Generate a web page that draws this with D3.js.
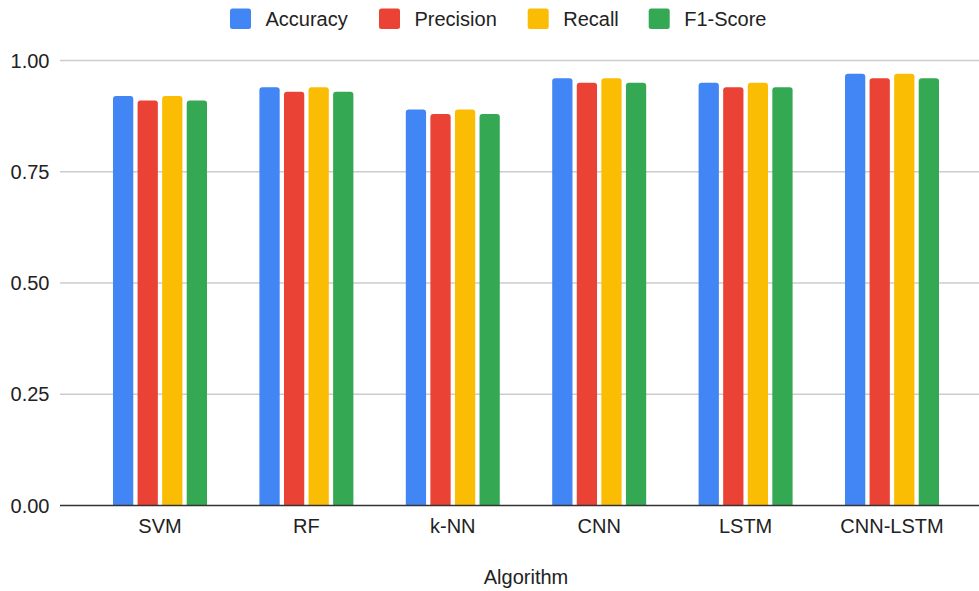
<!DOCTYPE html>
<html>
<head>
<meta charset="utf-8">
<script src="https://cdn.jsdelivr.net/npm/d3@7/dist/d3.min.js"></script>
<style>
  html, body { margin: 0; padding: 0; background: #fff; }
  svg { display: block; font-family: Arial, "Liberation Sans", sans-serif; }
</style>
</head>
<body>
<svg id="chart" width="979" height="591"></svg>
<script>
const categories = ["SVM", "RF", "k-NN", "CNN", "LSTM", "CNN-LSTM"];
const seriesNames = ["Accuracy", "Precision", "Recall", "F1-Score"];
const accuracy  = [0.92, 0.94, 0.89, 0.96, 0.95, 0.97];
const precision = [0.91, 0.93, 0.88, 0.95, 0.94, 0.96];
const recall    = [0.92, 0.94, 0.89, 0.96, 0.95, 0.97];
const f1score   = [0.91, 0.93, 0.88, 0.95, 0.94, 0.96];
const yTicks = [0, 0.25, 0.5, 0.75, 1.0];
const colors = ["#4285F4", "#EA4335", "#FBBC04", "#34A853"];
const xTitle = "Algorithm";

const seriesValues = [accuracy, precision, recall, f1score];

const svg = d3.select("#chart");
const W = 979, H = 591;
const gridLeft = 60, gridRight = 979;

const x0 = d3.scaleBand().domain(categories).range([86.8, 965.2])
  .paddingInner(0.358).paddingOuter(0.179);
const x1 = d3.scaleBand().domain(seriesNames).range([0, x0.bandwidth()])
  .paddingInner(0.175).paddingOuter(0);
const y = d3.scaleLinear().domain([0, 1]).range([505.5, 60.5]);
const color = d3.scaleOrdinal().domain(seriesNames).range(colors);

// gridlines
svg.append("g").selectAll("line").data(yTicks.filter(t => t > 0)).join("line")
  .attr("x1", gridLeft).attr("x2", gridRight)
  .attr("y1", d => y(d)).attr("y2", d => y(d))
  .attr("stroke", "#cccccc").attr("stroke-width", 1.3);

// y tick labels
svg.append("g").selectAll("text").data(yTicks).join("text")
  .attr("x", 49.5).attr("y", d => y(d)).attr("dy", "0.35em")
  .attr("text-anchor", "end").attr("font-size", 20).attr("fill", "#222")
  .text(d => d3.format(".2f")(d));

// bars with rounded top corners
function barPath(x, yTop, w, yBase, r) {
  const h = yBase - yTop;
  r = Math.min(r, w / 2, h);
  return `M${x},${yBase}V${yTop + r}Q${x},${yTop} ${x + r},${yTop}H${x + w - r}Q${x + w},${yTop} ${x + w},${yTop + r}V${yBase}Z`;
}

const data = [];
categories.forEach((c, i) => {
  seriesNames.forEach((s, j) => data.push({ cat: c, series: s, value: seriesValues[j][i] }));
});

svg.append("g").selectAll("path").data(data).join("path")
  .attr("d", d => barPath(x0(d.cat) + x1(d.series), y(d.value), x1.bandwidth(), y(0), 3))
  .attr("fill", d => color(d.series));

// baseline axis
svg.append("line")
  .attr("x1", gridLeft).attr("x2", gridRight)
  .attr("y1", y(0)).attr("y2", y(0))
  .attr("stroke", "#333333").attr("stroke-width", 1.6);

// x category labels
svg.append("g").selectAll("text").data(categories).join("text")
  .attr("x", d => x0(d) + x0.bandwidth() / 2).attr("y", 533.3)
  .attr("text-anchor", "middle").attr("font-size", 20).attr("fill", "#222")
  .text(d => d);

// x title
svg.append("text")
  .attr("x", 526).attr("y", 583.5)
  .attr("text-anchor", "middle").attr("font-size", 20).attr("fill", "#222")
  .text(xTitle);

// legend
const legendX = [230, 379, 527.7, 648.7];
const lg = svg.append("g").selectAll("g").data(seriesNames).join("g")
  .attr("transform", (d, i) => `translate(${legendX[i]},8.5)`);
lg.append("rect").attr("width", 21).attr("height", 20.5).attr("rx", 2.5)
  .attr("fill", d => color(d));
lg.append("text").attr("x", 35.5).attr("y", 10.3).attr("dy", "0.35em")
  .attr("font-size", 20).attr("fill", "#222").text(d => d);
</script>
</body>
</html>
